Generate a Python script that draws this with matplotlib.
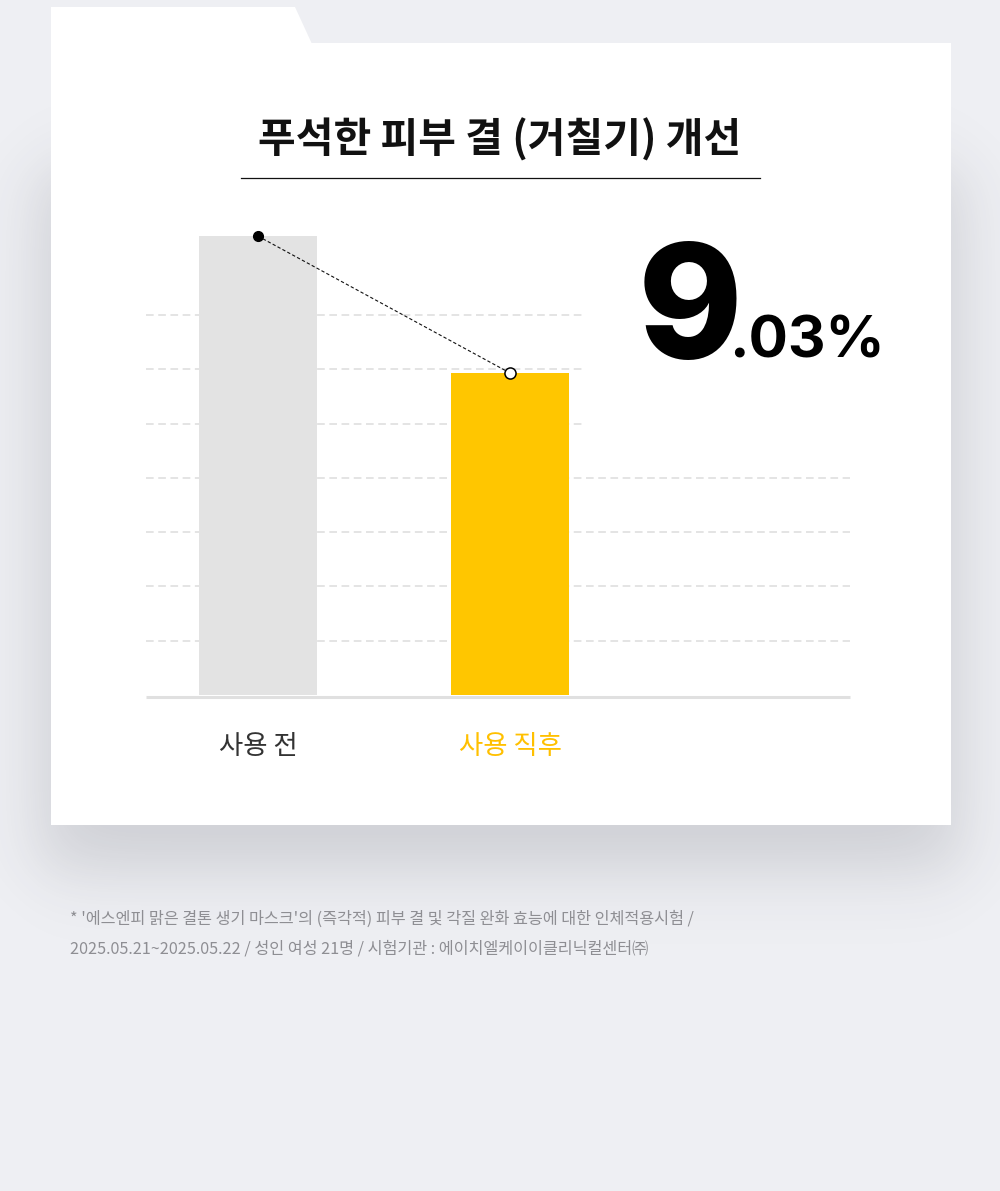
import numpy as np
import matplotlib
matplotlib.use("Agg")
import matplotlib.pyplot as plt
from matplotlib.patches import Polygon, Rectangle

plt.rcParams['font.family'] = ['Noto Sans CJK KR', 'DejaVu Sans']

# Data (values in chart grid units)
categories = ['사용 전', '사용 직후']
values = [8.45, 5.93]
bar_colors = ['#e3e3e3', '#ffc600']
label_colors = ['#333333', '#ffc000']
grid_levels = [1, 2, 3, 4, 5, 6, 7]
title = '푸석한 피부 결 (거칠기) 개선'
big_digit = '9'
small_digits = '.03%'
footnote = ["* '에스엔피 맑은 결톤 생기 마스크'의 (즉각적) 피부 결 및 각질 완화 효능에 대한 인체적용시험 /",
            "2025.05.21~2025.05.22 / 성인 여성 21명 / 시험기관 : 에이치엘케이이클리닉컬센터㈜"]

W, H = 1000, 1191
fig = plt.figure(figsize=(W / 100, H / 100), dpi=100)
fig.patch.set_facecolor('#eeeff3')

# background layer in pixel coordinates
bg = fig.add_axes([0, 0, 1, 1])
bg.set_xlim(0, W)
bg.set_ylim(H, 0)
bg.axis('off')

# soft shadow behind the card
xx = np.arange(W)[None, :]
yy = np.arange(H)[:, None]
def soft(v, a, b, s):
    return 0.25 * (1 + np.tanh((v - a) / s)) * (1 + np.tanh((b - v) / s))
alpha = 0.16 * soft(xx, 40, 960, 40) * soft(yy, 170, 870, 40)
shadow = np.zeros((H, W, 4))
shadow[..., 0] = 40 / 255
shadow[..., 1] = 42 / 255
shadow[..., 2] = 55 / 255
shadow[..., 3] = alpha
bg.imshow(shadow, extent=(0, W, H, 0), zorder=0)

# card and tab
bg.add_patch(Rectangle((51, 43), 900, 782, facecolor='white', edgecolor='none', zorder=1))
bg.add_patch(Polygon([(51, 7), (295, 7), (312, 44), (51, 44)], closed=True,
                     facecolor='white', edgecolor='none', zorder=1))

# title with underline
bg.text(500, 140, title, ha='center', va='center', fontsize=29.5, fontweight='bold',
        color='#111111', zorder=2)
bg.plot([241, 760], [177.5, 177.5], color='#111111', lw=0.9, zorder=2)

# footnote
for i, line in enumerate(footnote):
    bg.text(70, 919 + i * 30, line, ha='left', va='center', fontsize=11.7,
            color='#8e8e93', zorder=2)

# chart axes
unit = 54.3
top_px, base_px = 215, 695
ax = fig.add_axes([146 / W, (H - base_px) / H, 704 / W, (base_px - top_px) / H])
ax.patch.set_alpha(0)
ax.set_xlim(-112 / 252, 592 / 252)
ax.set_ylim(0, (base_px - top_px) / unit)
for s in ax.spines.values():
    s.set_visible(False)
ax.set_xticks([])
ax.set_yticks([])

x = np.arange(len(categories))
ax.bar(x, values, width=118 / 252, color=bar_colors, zorder=3)

# dashed grid, upper lines stop short of the percentage label
for g in grid_levels:
    xend = 1.298 if g >= 5 else ax.get_xlim()[1]
    ax.plot([ax.get_xlim()[0], xend], [g, g], color='#dcdcdc', lw=1.1,
            dashes=(5, 3), zorder=1)
ax.plot(ax.get_xlim(), [-1.6 / unit, -1.6 / unit], color='#e0e0e0', lw=2.2,
        zorder=2, solid_capstyle='butt', clip_on=False)

# connector between bar tops
ax.plot(x, values, color='#111111', lw=0.8, dashes=(3, 2), zorder=5)
ax.plot(x[0], values[0], 'o', ms=7, color='black', zorder=6)
ax.plot(x[1], values[1], 'o', ms=8, mfc='white', mec='black', mew=1.1, zorder=6)

# category labels
for xi, lab, c in zip(x, categories, label_colors):
    ax.text(xi, -52 / unit, lab, ha='center', va='center', fontsize=19, color=c,
            clip_on=False)

# percentage label
bg.text(743, 358, big_digit, ha='right', va='baseline', fontsize=114,
        fontweight='heavy', family=['Inter', 'DejaVu Sans'], color='black', zorder=2)
bg.text(729, 358, small_digits, ha='left', va='baseline', fontsize=42,
        fontweight='bold', family=['Inter', 'DejaVu Sans'], color='black', zorder=2)

fig.savefig('out.png', dpi=100, facecolor=fig.get_facecolor())
